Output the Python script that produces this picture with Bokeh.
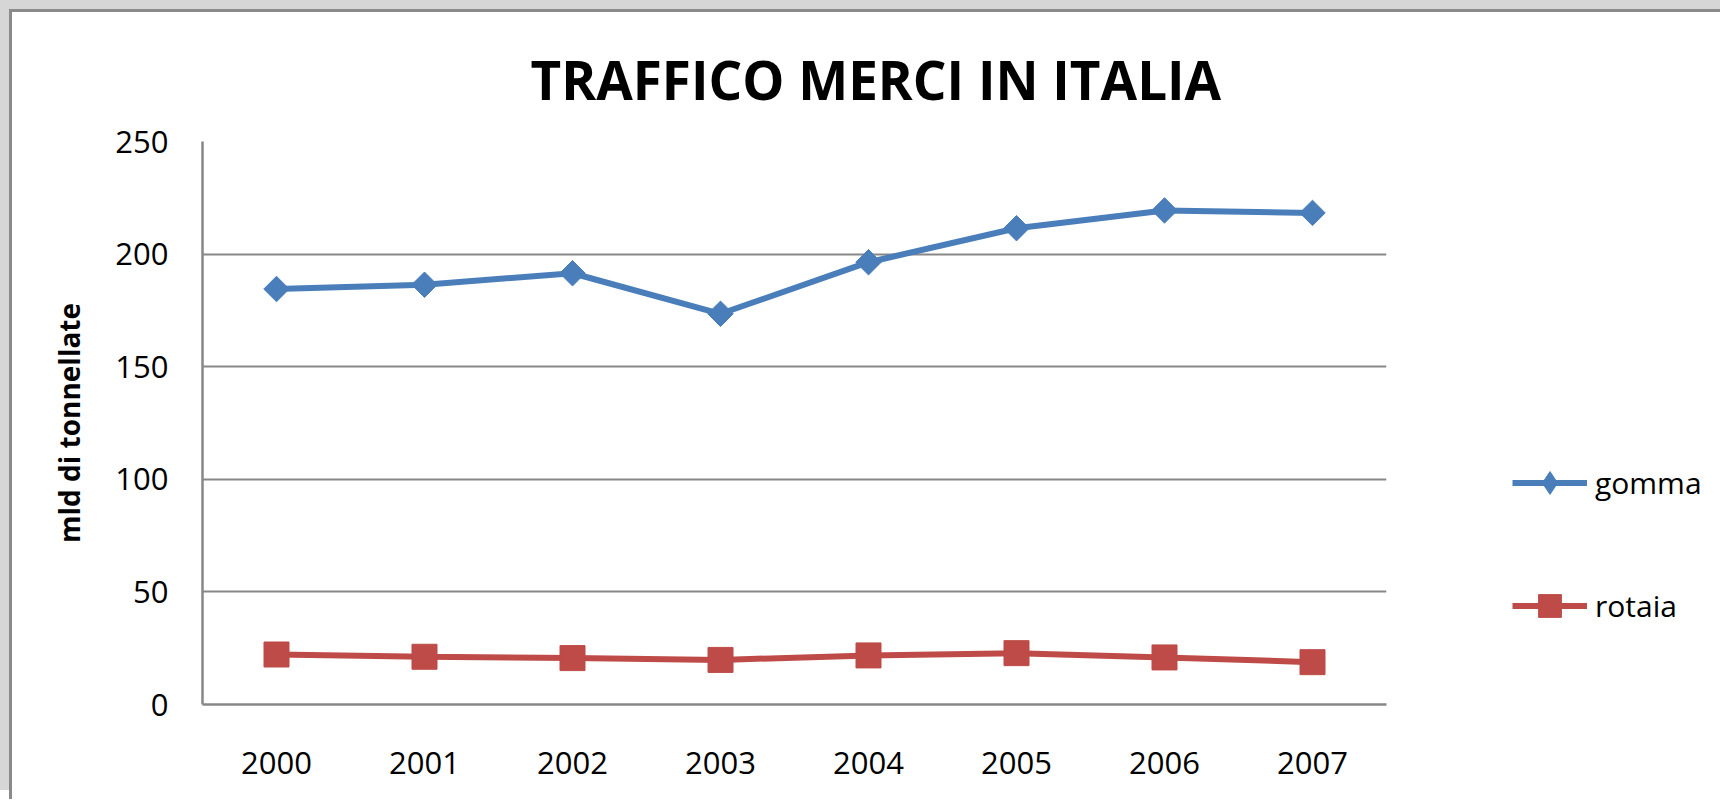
import math
from bokeh.plotting import figure
from bokeh.models import (FactorRange, Range1d, FixedTicker, Legend, LegendItem,
                          Title, ColumnDataSource)
from bokeh.embed import file_html
from bokeh.resources import INLINE

years = ["2000", "2001", "2002", "2003", "2004", "2005", "2006", "2007"]
gomma = [184.5, 186.4, 191.5, 173.5, 196.4, 211.5, 219.4, 218.3]
rotaia = [22.2, 21.2, 20.6, 19.8, 21.8, 22.8, 20.9, 18.8]
y_ticks = [0, 50, 100, 150, 200, 250]

title_text = "TRAFFICO MERCI IN ITALIA"
y_label = "mld di tonnellate"

FONT = "Open Sans"
BLUE = "#4A7EBB"
RED = "#BE4B48"
GRID = "#878787"

src = ColumnDataSource(dict(x=years, gomma=gomma, rotaia=rotaia))

p = figure(
    frame_width=1184, frame_height=563,
    x_range=FactorRange(factors=years, range_padding=0),
    y_range=Range1d(0, 250),
    output_backend="svg", toolbar_location=None,
    min_border_left=190, min_border_top=129, min_border_bottom=95,
    min_border_right=0,
    background_fill_color="white", border_fill_color="white",
)
p.styles = {
    "margin-left": "9px", "margin-top": "9px",
    "border-top": "3px solid #8a8a8a", "border-left": "3px solid #8a8a8a",
    "box-shadow": "-9px -9px 0 0 #d6d6d6",
}
p.outline_line_color = None

t = Title(text=title_text, align="left", offset=328, vertical_align="bottom",
          standoff=52, text_font=FONT, text_font_size="53px",
          text_font_style="bold", text_color="black")
p.add_layout(t, "above")

# axes
p.yaxis.ticker = FixedTicker(ticks=y_ticks)
p.yaxis.axis_line_color = GRID
p.yaxis.axis_line_width = 2.5
p.yaxis.major_tick_line_color = None
p.yaxis.minor_tick_line_color = None
p.yaxis.major_tick_out = 0
p.yaxis.major_label_standoff = 34
p.yaxis.major_label_text_font = FONT
p.yaxis.major_label_text_font_size = "31px"
p.yaxis.major_label_text_color = "black"
p.yaxis.axis_label = y_label
p.yaxis.axis_label_text_font = FONT
p.yaxis.axis_label_text_font_size = "28px"
p.yaxis.axis_label_text_font_style = "bold"
p.yaxis.axis_label_text_color = "black"
p.yaxis.axis_label_standoff = 24

p.xaxis.axis_line_color = GRID
p.xaxis.axis_line_width = 2.5
p.xaxis.major_tick_line_color = None
p.xaxis.minor_tick_line_color = None
p.xaxis.major_tick_out = 0
p.xaxis.major_label_standoff = 47
p.xaxis.major_label_text_font = FONT
p.xaxis.major_label_text_font_size = "31px"
p.xaxis.major_label_text_color = "black"

p.xgrid.grid_line_color = None
p.ygrid.grid_line_color = GRID
p.ygrid.grid_line_width = 2

# series
l1 = p.line("x", "gomma", source=src, line_color=BLUE, line_width=6)
# diamond key (used for the legend symbol; sits hidden under the plotted markers)
m1_key = p.scatter("x", "gomma", source=src, marker="diamond", size=12,
                   fill_color=BLUE, line_color=BLUE)
m1 = p.scatter("x", "gomma", source=src, marker="square", size=18,
               angle=math.pi / 4, fill_color=BLUE, line_color=BLUE)
l2 = p.line("x", "rotaia", source=src, line_color=RED, line_width=6)
m2 = p.scatter("x", "rotaia", source=src, marker="square", size=25,
               fill_color=RED, line_color=RED)

legend = Legend(
    items=[LegendItem(label="gomma", renderers=[l1, m1_key]),
           LegendItem(label="rotaia", renderers=[l2, m2])],
    location=(126, 70),
    glyph_width=75, glyph_height=57, label_height=57,
    label_standoff=8, spacing=66, padding=0, margin=0,
    border_line_color=None, background_fill_alpha=0,
    label_text_font=FONT, label_text_font_size="30px",
    label_text_color="black",
)
p.add_layout(legend, "right")

open("out.html", "w").write(file_html(p, INLINE))
